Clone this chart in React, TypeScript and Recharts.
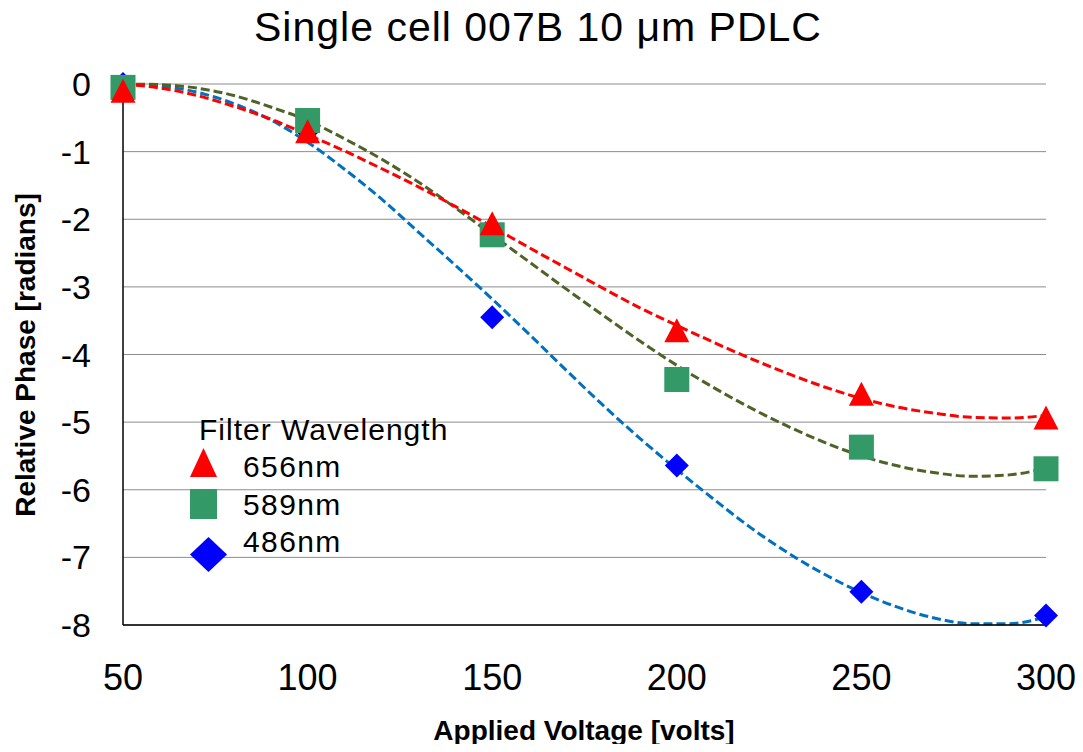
import React from 'react';
import { ComposedChart, Line, Scatter, XAxis, YAxis, CartesianGrid, Legend } from 'recharts';

// ---- data ----
const voltages = [50, 100, 150, 200, 250, 300];
const phase656 = [-0.1, -0.7, -2.06, -3.64, -4.58, -4.93];
const phase589 = [-0.05, -0.54, -2.23, -4.37, -5.37, -5.69];
const phase486 = [0.0, -0.7, -3.45, -5.64, -7.51, -7.86];

// dashed trend lines, every 10 V
const trendVoltages = [50, 60, 70, 80, 90, 100, 110, 120, 130, 140, 150, 160, 170, 180, 190, 200, 210, 220, 230, 240, 250, 260, 270, 280, 290, 300];
const trend656 = [0.0, -0.06, -0.17, -0.33, -0.52, -0.75, -0.99, -1.25, -1.52, -1.81, -2.11, -2.42, -2.72, -3.02, -3.31, -3.57, -3.82, -4.06, -4.28, -4.48, -4.65, -4.78, -4.87, -4.93, -4.94, -4.9];
const trend589 = [0.0, -0.01, -0.06, -0.17, -0.34, -0.54, -0.81, -1.11, -1.45, -1.83, -2.23, -2.63, -3.03, -3.42, -3.8, -4.16, -4.49, -4.79, -5.06, -5.3, -5.5, -5.65, -5.75, -5.8, -5.78, -5.68];
const trend486 = [0.0, -0.03, -0.12, -0.29, -0.53, -0.86, -1.26, -1.7, -2.19, -2.68, -3.18, -3.7, -4.23, -4.75, -5.24, -5.7, -6.14, -6.56, -6.93, -7.25, -7.52, -7.74, -7.9, -7.98, -7.98, -7.88];

const xTicks = [50, 100, 150, 200, 250, 300];
const yTicks = [-8, -7, -6, -5, -4, -3, -2, -1, 0];
const seriesNames = ['656nm', '589nm', '486nm'];
const legendTitle = 'Filter Wavelength';
const chartTitle = 'Single cell 007B 10 \u03bcm PDLC';
const xTitle = 'Applied Voltage [volts]';
const yTitle = 'Relative Phase [radians]';

const FONT = '"Liberation Sans", Arial, sans-serif';

const toPoints = (xs: number[], ys: number[]) => xs.map((x, i) => ({ x, y: ys[i] }));

const pts656 = toPoints(voltages, phase656);
const pts589 = toPoints(voltages, phase589);
const pts486 = toPoints(voltages, phase486);
const tr656 = toPoints(trendVoltages, trend656);
const tr589 = toPoints(trendVoltages, trend589);
const tr486 = toPoints(trendVoltages, trend486);

const TriangleShape = (p: any) => {
  const { cx, cy, fill } = p;
  return <polygon points={`${cx},${cy - 12} ${cx - 12.5},${cy + 12} ${cx + 12.5},${cy + 12}`} fill={fill} />;
};
const SquareShape = (p: any) => {
  const { cx, cy, fill } = p;
  return <rect x={cx - 12.5} y={cy - 12.5} width={25} height={25} fill={fill} />;
};
const DiamondShape = (p: any) => {
  const { cx, cy, fill } = p;
  return <polygon points={`${cx},${cy - 12} ${cx + 12},${cy} ${cx},${cy + 12} ${cx - 12},${cy}`} fill={fill} />;
};

const LegendBox = () => (
  <svg width={300} height={170} style={{ overflow: 'visible' }}>
    <text x={11} y={32} fontSize={30} letterSpacing={1} fontFamily={FONT} fill="#000">{legendTitle}</text>
    <polygon points="15.5,40 2,69 29,69" fill="#FF0000" />
    <text x={55} y={69} fontSize={30} letterSpacing={1.4} fontFamily={FONT} fill="#000">{seriesNames[0]}</text>
    <rect x={2} y={81} width={27} height={30} fill="#339966" />
    <text x={55} y={107} fontSize={30} letterSpacing={1.4} fontFamily={FONT} fill="#000">{seriesNames[1]}</text>
    <polygon points="20.5,129 39,146.5 20.5,164 2,146.5" fill="#0000FF" />
    <text x={55} y={144} fontSize={30} letterSpacing={1.4} fontFamily={FONT} fill="#000">{seriesNames[2]}</text>
  </svg>
);

export default function App() {
  return (
    <div style={{ position: 'relative', width: 1075, height: 736, fontFamily: FONT }}>
      <ComposedChart width={1075} height={736} margin={{ top: 76, right: 37, bottom: 59, left: 55 }}>
        <CartesianGrid horizontal vertical={false} stroke="#8c8c8c" strokeWidth={1} />
        <XAxis
          type="number"
          dataKey="x"
          domain={[50, 300]}
          ticks={xTicks}
          height={60}
          tickSize={0}
          tickMargin={39}
          axisLine={{ stroke: '#000', strokeWidth: 1.5 }}
          tickLine={false}
          tick={{ fontSize: 36, fill: '#000', fontFamily: FONT }}
        />
        <YAxis
          type="number"
          domain={[-8, 0]}
          ticks={yTicks}
          width={60}
          tickSize={0}
          tickMargin={32}
          axisLine={{ stroke: '#000', strokeWidth: 1.5 }}
          tickLine={false}
          tick={{ fontSize: 34, fill: '#000', fontFamily: FONT }}
        />
        <Scatter name={seriesNames[2]} data={pts486} dataKey="y" fill="#0000FF" shape={DiamondShape} isAnimationActive={false} legendType="none" />
        <Scatter name={seriesNames[1]} data={pts589} dataKey="y" fill="#339966" shape={SquareShape} isAnimationActive={false} legendType="none" />
        <Scatter name={seriesNames[0]} data={pts656} dataKey="y" fill="#FF0000" shape={TriangleShape} isAnimationActive={false} legendType="none" />
        <Line data={tr486} dataKey="y" type="monotone" stroke="#0070C0" strokeWidth={3} strokeDasharray="9 4" dot={false} activeDot={false} isAnimationActive={false} legendType="none" />
        <Line data={tr589} dataKey="y" type="monotone" stroke="#4F6228" strokeWidth={3} strokeDasharray="9 4" dot={false} activeDot={false} isAnimationActive={false} legendType="none" />
        <Line data={tr656} dataKey="y" type="monotone" stroke="#FF0000" strokeWidth={3} strokeDasharray="9 4" dot={false} activeDot={false} isAnimationActive={false} legendType="none" />
        <Legend
          layout="vertical"
          align="center"
          verticalAlign="middle"
          wrapperStyle={{ left: 180, top: 400, width: 300, height: 170 }}
          content={() => <LegendBox />}
        />
      </ComposedChart>
      <svg width={1075} height={736} style={{ position: 'absolute', left: 0, top: 0, pointerEvents: 'none', overflow: 'visible' }}>
        <text x={530} y={33} textAnchor="middle" fontSize={41} letterSpacing={1} fontFamily={FONT} fill="#000">{chartTitle}</text>
        <text x={576} y={732} textAnchor="middle" fontSize={28} fontWeight="bold" fontFamily={FONT} fill="#000">{xTitle}</text>
        <text x={27} y={347} textAnchor="middle" fontSize={28} fontWeight="bold" fontFamily={FONT} fill="#000" transform="rotate(-90 27 347)">{yTitle}</text>
      </svg>
    </div>
  );
}
